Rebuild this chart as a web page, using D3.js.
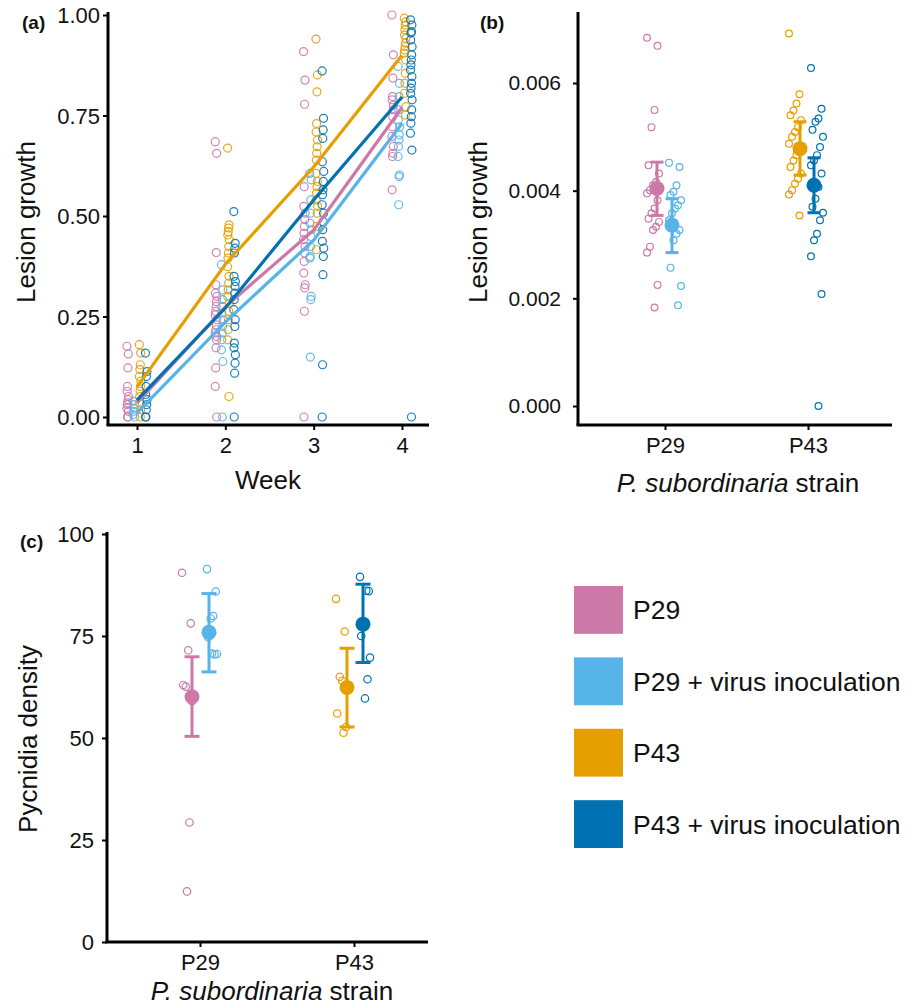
<!DOCTYPE html>
<html><head><meta charset="utf-8">
<script src="https://cdn.jsdelivr.net/npm/d3@7"></script>
<style>
html,body{margin:0;padding:0;background:#fff;}
svg{display:block;font-family:"Liberation Sans",Arial,sans-serif;}
</style></head>
<body><svg id="c" width="914" height="1007"></svg>
<script>
// ---------- DATA ----------
const groups = ["P29", "P29 + virus inoculation", "P43", "P43 + virus inoculation"];
const groupColors = ["#CC79A7", "#56B4E9", "#E69F00", "#0072B2"];
const weeks = [1, 2, 3, 4];
const strains = ["P29", "P43"];

// Panel (a): mean lesion growth per week (lines)
const meanA_P29   = [0.035, 0.274, 0.465, 0.770];
const meanA_P29v  = [0.010, 0.236, 0.440, 0.730];
const meanA_P43   = [0.075, 0.380, 0.622, 0.900];
const meanA_P43v  = [0.042, 0.271, 0.540, 0.796];

// Panel (a): raw observations per week
const rawA_P29 = [
  [0.176,0.157,0.122,0.076,0.064,0.051,0.043,0.035,0.031,0.022,0.014,0,0],
  [0.685,0.656,0.409,0.329,0.308,0.300,0.287,0.275,0.263,0.254,0.242,0.229,0.217,0.209,0.200,0.192,0.172,0.122,0.076,0],
  [0.909,0.838,0.778,0.573,0.524,0.507,0.491,0.474,0.457,0.441,0.424,0.408,0.387,0.358,0.329,0.321,0.263,0],
  [1.0,0.901,0.843,0.797,0.789,0.776,0.764,0.747,0.722,0.698,0.673,0.656,0.648,0.565]
];
const rawA_P29v = [
  [0.039,0.031,0.022,0.014,0.006,0],
  [0.379,0.316,0.292,0.275,0.258,0.242,0.225,0.209,0.192,0.167,0.138,0],
  [0.606,0.590,0.540,0.507,0.482,0.466,0.449,0.424,0.399,0.395,0.300,0.292,0.149],
  [0.872,0.830,0.797,0.764,0.739,0.722,0.702,0.689,0.673,0.648,0.602,0.598,0.528]
];
const rawA_P43 = [
  [0.180,0.159,0.130,0.118,0.101,0.089,0.076,0.064,0.051,0.035,0.018,0],
  [0.669,0.478,0.470,0.461,0.453,0.441,0.424,0.408,0.395,0.374,0.350,0.333,0.316,0.300,0.283,0.263,0.242,0.217,0.192,0.051],
  [0.940,0.851,0.809,0.730,0.709,0.689,0.672,0.656,0.639,0.606,0.586,0.573,0.557,0.540,0.524,0.507,0.474,0.416],
  [0.992,0.983,0.975,0.963,0.950,0.942,0.930,0.921,0.913,0.905,0.888,0.855,0.830,0.805,0.772,0.751]
];
const rawA_P43v = [
  [0.159,0.113,0.101,0.076,0.056,0.043,0.031,0.018,0,0],
  [0.511,0.432,0.420,0.408,0.350,0.337,0.325,0.308,0.292,0.267,0.242,0.225,0.184,0.172,0.155,0.134,0.109,0],
  [0.861,0.743,0.714,0.693,0.635,0.611,0.586,0.565,0.553,0.528,0.507,0.486,0.466,0.437,0.420,0.399,0.354,0.130,0],
  [0.988,0.975,0.959,0.955,0.938,0.921,0.901,0.888,0.876,0.863,0.847,0.830,0.818,0.805,0.789,0.764,0.747,0.731,0.706,0.664,0]
];
const ticksA_y = [0, 0.25, 0.5, 0.75, 1.0];

// Panel (b): lesion growth rate
const rawB_P29  = [6.84,6.69,5.50,5.18,4.47,4.32,4.16,4.10,4.01,3.95,3.82,3.67,3.58,3.48,3.42,3.33,3.27,2.96,2.85,2.25,1.83].map(v=>v/1000);
const rawB_P29v = [4.52,4.44,4.10,3.98,3.92,3.82,3.73,3.67,3.58,3.45,3.27,3.20,3.08,2.57,2.23,1.87].map(v=>v/1000);
const rawB_P43  = [6.92,5.79,5.62,5.49,5.40,5.31,5.18,5.09,5.00,4.87,4.75,4.66,4.56,4.44,4.32,4.22,4.13,4.01,3.93,3.54].map(v=>v/1000);
const rawB_P43v = [6.28,5.52,5.34,5.28,5.13,5.00,4.81,4.66,4.56,4.47,4.32,4.07,3.85,3.70,3.59,3.45,3.20,3.08,2.78,2.08,0].map(v=>v/1000);
const meanB  = [0.00404, 0.00336, 0.00478, 0.00410];
const lowerB = [0.00354, 0.00285, 0.00429, 0.00359];
const upperB = [0.00453, 0.00385, 0.00528, 0.00461];
const ticksB_y = [0, 0.002, 0.004, 0.006];

// Panel (c): pycnidia density
const rawC_P29  = [90.5,78.1,71.5,62.6,63.0,59.0,29.3,12.4];
const rawC_P29v = [91.4,85.9,79.9,79.3,74.7,70.6,70.5,70.7];
const rawC_P43  = [84.1,76.1,64.0,65.0,56.0,52.7,51.3];
const rawC_P43v = [89.5,86.0,86.1,78.5,75.0,69.7,64.4,59.7];
const meanC  = [60.1, 75.9, 62.4, 77.9];
const lowerC = [50.4, 66.2, 52.7, 68.5];
const upperC = [69.9, 85.4, 72.0, 87.7];
const ticksC_y = [0, 25, 50, 75, 100];

// ---------- DRAW ----------
const svg = d3.select("#c");
const font = '"Liberation Sans",Arial,sans-serif';
const jit = i => (((i * 7) % 9) - 4) / 4; // deterministic spread in [-1,1]

function axisLines(g, x0, x1, y0, y1) {
  g.append("line").attr("x1", x0).attr("x2", x0).attr("y1", y0).attr("y2", y1)
    .attr("stroke", "#000").attr("stroke-width", 3);
  g.append("line").attr("x1", x0 - 1.5).attr("x2", x1).attr("y1", y1).attr("y2", y1)
    .attr("stroke", "#000").attr("stroke-width", 3);
}
function styleAxis(sel, size) {
  sel.select(".domain").remove();
  sel.selectAll(".tick line").attr("stroke", "#000").attr("stroke-width", 2);
  sel.selectAll(".tick text").attr("fill", "#111").style("font-size", size + "px").style("font-family", font);
}

// ===== Panel (a) =====
{
  const g = svg.append("g");
  const x = d3.scaleLinear().domain([1, 4]).range([137, 402]);
  const y = d3.scaleLinear().domain([0, 1]).range([417, 15]);
  const dodge = [-0.105, -0.035, 0.035, 0.105];
  const raws = [rawA_P29, rawA_P29v, rawA_P43, rawA_P43v];
  const means = [meanA_P29, meanA_P29v, meanA_P43, meanA_P43v];

  raws.forEach((arr, gi) => {
    arr.forEach((vals, wi) => {
      g.selectAll(null).data(vals).enter().append("circle")
        .attr("cx", (d, i) => x(weeks[wi] + dodge[gi]) + jit(i) * 0.8)
        .attr("cy", d => y(d))
        .attr("r", 4)
        .attr("fill", "none")
        .attr("stroke", groupColors[gi])
        .attr("stroke-width", 1.2)
        .attr("opacity", 0.9);
    });
  });
  const line = d3.line().x((d, i) => x(weeks[i])).y(d => y(d));
  means.forEach((m, gi) => {
    g.append("path").datum(m).attr("d", line).attr("fill", "none")
      .attr("stroke", groupColors[gi]).attr("stroke-width", 3.2);
  });
  axisLines(g, 108, 429, 12, 425);
  const ay = g.append("g").attr("transform", "translate(108,0)")
    .call(d3.axisLeft(y).tickValues(ticksA_y).tickFormat(d3.format(".2f")).tickSize(5).tickPadding(3));
  styleAxis(ay, 22);
  ay.selectAll(".tick text").attr("dy", "0.36em");
  const ax = g.append("g").attr("transform", "translate(0,425)")
    .call(d3.axisBottom(x).tickValues(weeks).tickFormat(d3.format("d")).tickSize(5).tickPadding(7));
  styleAxis(ax, 22);
  g.append("text").attr("x", 268).attr("y", 489).attr("text-anchor", "middle")
    .style("font-size", "26px").attr("fill", "#111").text("Week");
  g.append("text").attr("transform", "translate(35,222) rotate(-90)").attr("text-anchor", "middle")
    .style("font-size", "26px").attr("fill", "#111").text("Lesion growth");
  g.append("text").attr("x", 22).attr("y", 29).style("font-size", "19px").style("font-weight", "bold")
    .attr("fill", "#111").text("(a)");
}

// ===== Panel (b) =====
{
  const g = svg.append("g");
  const xc = d3.scalePoint().domain(strains).range([665, 808]);
  const y = d3.scaleLinear().domain([0, 0.006]).range([406, 83]);
  const raws = [rawB_P29, rawB_P29v, rawB_P43, rawB_P43v];
  const strainOf = [0, 0, 1, 1];
  const rawOff = [-12, 10, -13, 9];
  const meanOff = [-8, 7, -8, 6];
  raws.forEach((vals, gi) => {
    g.selectAll(null).data(vals).enter().append("circle")
      .attr("cx", (d, i) => xc(strains[strainOf[gi]]) + rawOff[gi] + jit(i) * 6)
      .attr("cy", d => y(d)).attr("r", 3.4)
      .attr("fill", "none").attr("stroke", groupColors[gi]).attr("stroke-width", 1.2);
  });
  groups.forEach((gn, gi) => {
    const cx = xc(strains[strainOf[gi]]) + meanOff[gi];
    g.append("line").attr("x1", cx).attr("x2", cx).attr("y1", y(lowerB[gi])).attr("y2", y(upperB[gi]))
      .attr("stroke", groupColors[gi]).attr("stroke-width", 3);
    [lowerB[gi], upperB[gi]].forEach(v => {
      g.append("line").attr("x1", cx - 6.5).attr("x2", cx + 6.5).attr("y1", y(v)).attr("y2", y(v))
        .attr("stroke", groupColors[gi]).attr("stroke-width", 3);
    });
    g.append("circle").attr("cx", cx).attr("cy", y(meanB[gi])).attr("r", 7.5).attr("fill", groupColors[gi]);
  });
  axisLines(g, 578, 892, 12, 425);
  const ay = g.append("g").attr("transform", "translate(578,0)")
    .call(d3.axisLeft(y).tickValues(ticksB_y).tickFormat(d3.format(".3f")).tickSize(5).tickPadding(12));
  styleAxis(ay, 21);
  const ax = g.append("g").attr("transform", "translate(0,425)")
    .call(d3.axisBottom(xc).tickSize(5).tickPadding(7));
  styleAxis(ax, 22);
  const t = g.append("text").attr("x", 738).attr("y", 492).attr("text-anchor", "middle")
    .style("font-size", "26px").attr("fill", "#111");
  t.append("tspan").style("font-style", "italic").text("P. subordinaria");
  t.append("tspan").text(" strain");
  g.append("text").attr("transform", "translate(487,222) rotate(-90)").attr("text-anchor", "middle")
    .style("font-size", "26px").attr("fill", "#111").text("Lesion growth");
  g.append("text").attr("x", 480).attr("y", 29).style("font-size", "19px").style("font-weight", "bold")
    .attr("fill", "#111").text("(b)");
}

// ===== Panel (c) =====
{
  const g = svg.append("g");
  const xc = d3.scalePoint().domain(strains).range([200, 354]);
  const y = d3.scaleLinear().domain([0, 100]).range([942, 534]);
  const raws = [rawC_P29, rawC_P29v, rawC_P43, rawC_P43v];
  const strainOf = [0, 0, 1, 1];
  const rawOff = [-13, 12, -13, 11];
  const meanOff = [-8, 9, -7, 9];
  raws.forEach((vals, gi) => {
    g.selectAll(null).data(vals).enter().append("circle")
      .attr("cx", (d, i) => xc(strains[strainOf[gi]]) + rawOff[gi] + jit(i) * 5)
      .attr("cy", d => y(d)).attr("r", 3.7)
      .attr("fill", "none").attr("stroke", groupColors[gi]).attr("stroke-width", 1.2);
  });
  groups.forEach((gn, gi) => {
    const cx = xc(strains[strainOf[gi]]) + meanOff[gi];
    g.append("line").attr("x1", cx).attr("x2", cx).attr("y1", y(lowerC[gi])).attr("y2", y(upperC[gi]))
      .attr("stroke", groupColors[gi]).attr("stroke-width", 3);
    [lowerC[gi], upperC[gi]].forEach(v => {
      g.append("line").attr("x1", cx - 7.5).attr("x2", cx + 7.5).attr("y1", y(v)).attr("y2", y(v))
        .attr("stroke", groupColors[gi]).attr("stroke-width", 3);
    });
    g.append("circle").attr("cx", cx).attr("cy", y(meanC[gi])).attr("r", 7.5).attr("fill", groupColors[gi]);
  });
  axisLines(g, 107, 428, 532, 942);
  const ay = g.append("g").attr("transform", "translate(107,0)")
    .call(d3.axisLeft(y).tickValues(ticksC_y).tickFormat(d3.format("d")).tickSize(5).tickPadding(8));
  styleAxis(ay, 22);
  const ax = g.append("g").attr("transform", "translate(0,942)")
    .call(d3.axisBottom(xc).tickSize(5).tickPadding(7));
  styleAxis(ax, 22);
  const t = g.append("text").attr("x", 272).attr("y", 1000).attr("text-anchor", "middle")
    .style("font-size", "26px").attr("fill", "#111");
  t.append("tspan").style("font-style", "italic").text("P. subordinaria");
  t.append("tspan").text(" strain");
  g.append("text").attr("transform", "translate(37,739) rotate(-90)").attr("text-anchor", "middle")
    .style("font-size", "26px").attr("fill", "#111").text("Pycnidia density");
  g.append("text").attr("x", 20).attr("y", 548).style("font-size", "19px").style("font-weight", "bold")
    .attr("fill", "#111").text("(c)");
}

// ===== Legend =====
{
  const g = svg.append("g").attr("transform", "translate(574,586)");
  const ly = d3.scaleBand().domain(groups).range([0, 262]).paddingInner(0.33).paddingOuter(0);
  groups.forEach((gn, gi) => {
    g.append("rect").attr("x", 0).attr("y", ly(gn)).attr("width", 49).attr("height", ly.bandwidth())
      .attr("fill", groupColors[gi]);
    g.append("text").attr("x", 59).attr("y", ly(gn) + ly.bandwidth() / 2).attr("dy", "0.36em")
      .style("font-size", "26.5px").attr("fill", "#111").text(gn);
  });
}
</script>
</body></html>
